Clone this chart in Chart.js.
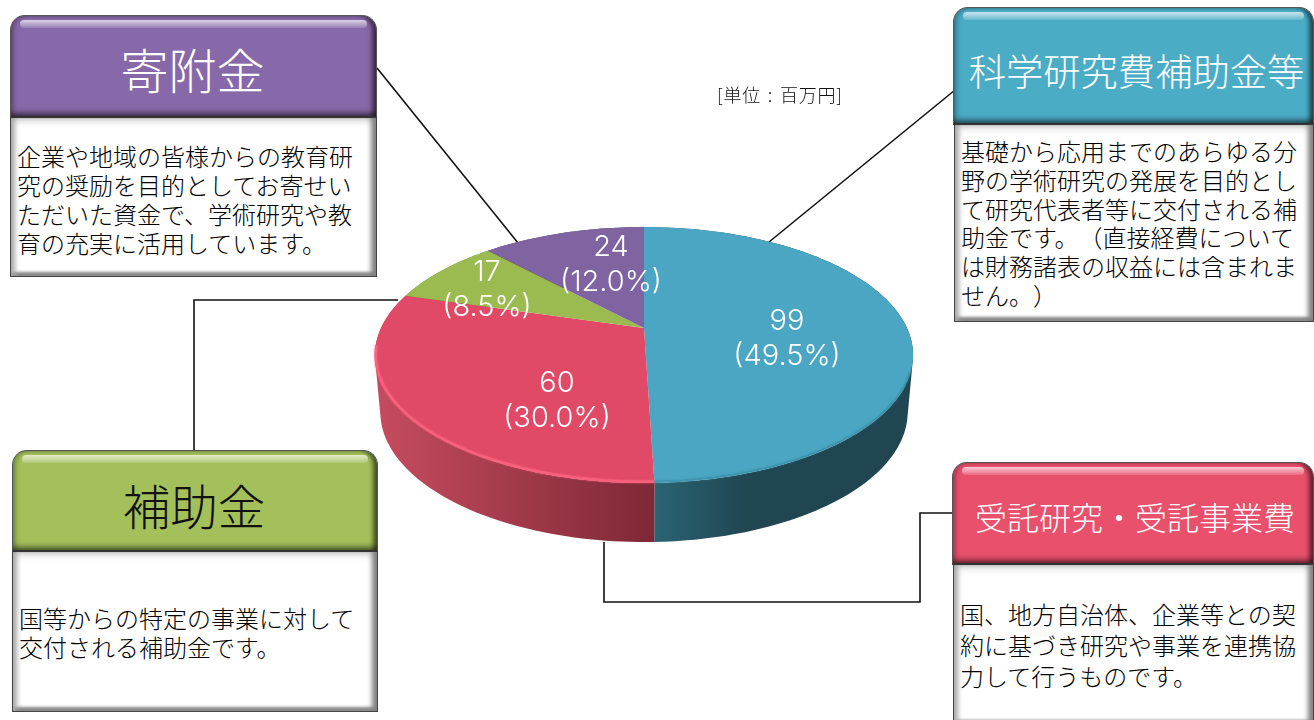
<!DOCTYPE html>
<html lang="ja"><head><meta charset="utf-8">
<script src="https://cdn.jsdelivr.net/npm/chart.js@4"></script>
<style>
html,body{margin:0;padding:0;background:#fff;overflow:hidden;width:1314px;height:720px;font-family:"Noto Sans CJK JP","Noto Sans",sans-serif;text-spacing-trim:space-all}
#chart{position:absolute;left:0;top:0;z-index:2}
svg{position:absolute;left:0;top:0;z-index:1}
.h,.b{position:absolute;box-sizing:border-box;z-index:3;white-space:nowrap}
.h{border-radius:15px 15px 0 0;border:1px solid #555;border-bottom:2px solid #333;color:#fff;font-weight:300;text-align:center;overflow:hidden;
 box-shadow:inset -5px 0 4px -1px rgba(0,0,0,.55),inset 4px 0 4px -1px rgba(0,0,0,.25),inset 0 -6px 5px -2px rgba(0,0,0,.4)}
.h:before{content:"";position:absolute;left:9px;right:9px;top:4px;height:8px;border-radius:4px;background:linear-gradient(rgba(255,255,255,.7),rgba(255,255,255,.15));filter:blur(.6px)}
.b{background:#fff;border:1px solid #444;border-top:0;color:#000;font-weight:300;font-size:24px;
 box-shadow:inset -7px 0 5px -2px #808080,inset 6px 0 5px -2px #aaa,inset 0 -7px 3px -3px #888,inset 0 7px 6px -3px #ddd}
#unit{position:absolute;left:717px;top:82px;font-size:18px;color:#111;z-index:3;font-weight:300;line-height:24px;white-space:nowrap;letter-spacing:.8px;word-spacing:2px}
</style></head><body>
<svg width="1314" height="720"><g fill="none" stroke="#111" stroke-width="1.6">
<polyline points="377,68 518,243"/><polyline points="955,90 769,242"/>
<polyline points="194,450 194,300 398,300"/><polyline points="604,542 604,602 920,602 920,513 952,513"/></g></svg>
<canvas id="chart" width="1314" height="720"></canvas>
<div id="boxes"></div>
<div id="unit"></div>
<script>
const categories=["科学研究費補助金等","受託研究・受託事業費","補助金","寄附金"];
const values=[99,60,17,24];
const percents=["(49.5%)","(30.0%)","(8.5%)","(12.0%)"];
const unitLabel="[単位 : 百万円]";
const descriptions=[
 ["基礎から応用までのあらゆる分","野の学術研究の発展を目的とし","て研究代表者等に交付される補","助金です。（直接経費について","は財務諸表の収益には含まれま","せん。）"],
 ["国、地方自治体、企業等との契","約に基づき研究や事業を連携協","力して行うものです。"],
 ["国等からの特定の事業に対して","交付される補助金です。"],
 ["企業や地域の皆様からの教育研","究の奨励を目的としてお寄せい","ただいた資金で、学術研究や教","育の充実に活用しています。"]
];
const sliceColors=["#4aa6c2","#e04a66","#9bbb50","#8064a2"];
const sideColors=[["#2b6373","#204652"],["#c64c60","#7e2836"],["#6f8a3a","#5a7030"],["#5d4878","#4c3a63"]];
const headColors=["#4bacc6","#e9506c","#a3c05a","#8768a8"];
const headTextColors=["#fff","#fff","#111","#fff"];
const labelCenters=[[787,338],[557,400],[487,289],[611,264]];
const layoutBoxes=[
 {x:953,y:7,w:361,hh:118,bh:197,fs:37.3,tp:40,lh:28.8,by:12,tx:3,pl:6},
 {x:952,y:462,w:362,hh:103,bh:160,fs:32,tp:34,lh:31,by:33,tx:2,pl:6},
 {x:12,y:450,w:366,hh:102,bh:160,fs:47.5,tp:25,lh:29,by:51,tx:-1,pl:6},
 {x:10,y:15,w:367,hh:103,bh:159,fs:48,tp:24,lh:29,by:23,tx:-1,pl:6}
];
const K=-0.211,YSCALE=0.465,CX=644,TOPC=355,LOWC=412;

layoutBoxes.forEach((l,i)=>{
 const root=document.getElementById('boxes');
 const h=document.createElement('div');h.className='h';
 h.style.cssText=`left:${l.x}px;top:${l.y}px;width:${l.w}px;height:${l.hh}px;background:${headColors[i]};color:${headTextColors[i]};font-size:${l.fs}px;line-height:${l.fs*1.2}px;padding-top:${l.tp}px;padding-left:${Math.max(l.tx,0)*2}px;padding-right:${Math.max(-l.tx,0)*2}px`;
 h.textContent=categories[i];root.appendChild(h);
 const b=document.createElement('div');b.className='b';
 b.style.cssText=`left:${l.x+(i<2?1:0)}px;top:${l.y+l.hh}px;width:${l.w-(i<2?1:0)}px;height:${l.bh}px;line-height:${l.lh}px;padding:${l.by}px 0 0 ${l.pl}px`;
 b.innerHTML=descriptions[i].join('<br>');root.appendChild(b);
});
document.getElementById('unit').textContent=unitLabel;

function proj(arc,a){
 const u=Math.cos(a),v=Math.sin(a),d=1+K*v,R=arc.outerRadius;
 return [arc.x+R*u/d,arc.y+R*YSCALE*v/d];
}
function lower(p){return [CX+(p[0]-CX)*0.98,LOWC+(p[1]-TOPC)*1.016];}
function samples(arc){
 const n=Math.max(8,Math.ceil((arc.endAngle-arc.startAngle)*40)),pts=[];
 for(let i=0;i<=n;i++)pts.push(proj(arc,arc.startAngle+(arc.endAngle-arc.startAngle)*i/n));
 return pts;
}
function addQuad(ctx,q){ // same winding for every quad, so overlaps never cancel under nonzero fill
 let area=0;
 q.forEach((p,i)=>{const n=q[(i+1)%4];area+=p[0]*n[1]-n[0]*p[1];});
 const o=area<0?q.slice().reverse():q;
 o.forEach((p,i)=>i?ctx.lineTo(p[0],p[1]):ctx.moveTo(p[0],p[1]));
 ctx.closePath();
}
const pie3d={id:'pie3d',beforeDatasetsDraw(chart){
 const ctx=chart.ctx,arcs=chart.getDatasetMeta(0).data;
 ctx.save();
 arcs.forEach((arc,i)=>{ // sides
  const pts=samples(arc),lo=pts.map(lower);
  const xs=pts.map(p=>p[0]),c=sideColors[i];
  let g;
  if(i===0){
   g=ctx.createLinearGradient(655,0,913,0);g.addColorStop(0,c[0]);g.addColorStop(.35,c[1]);g.addColorStop(1,c[1]);
  }else{
   g=ctx.createLinearGradient(Math.min(...xs),0,Math.max(...xs),0);g.addColorStop(0,c[0]);g.addColorStop(1,c[1]);
  }
  ctx.fillStyle=g;
  ctx.beginPath();
  for(let k=0;k<pts.length-1;k++)addQuad(ctx,[pts[k],pts[k+1],lo[k+1],lo[k]]);
  ctx.fill();
 });
 arcs.forEach((arc,i)=>{ // top faces
  const pts=samples(arc);
  ctx.fillStyle=sliceColors[i];ctx.beginPath();ctx.moveTo(arc.x,arc.y);
  pts.forEach(p=>ctx.lineTo(p[0],p[1]));ctx.closePath();ctx.fill();
 });
 const bevel=(arc,color,w,blur,minY)=>{
  const pts=samples(arc).filter(p=>p[1]>minY);
  ctx.strokeStyle=color;ctx.lineWidth=w;ctx.shadowColor=color;ctx.shadowBlur=blur;
  ctx.beginPath();pts.forEach((p,k)=>{const q=[CX+(p[0]-CX)*.997,TOPC+(p[1]-TOPC)*.99];k?ctx.lineTo(q[0],q[1]):ctx.moveTo(q[0],q[1]);});ctx.stroke();
  ctx.shadowBlur=0;
 };
 bevel(arcs[1],'#f8607c',2.5,2,345);
 bevel(arcs[0],'#3f94ae',1.5,2,370);
 ctx.fillStyle='#fff';ctx.textAlign='center';ctx.textBaseline='middle';
 ctx.font='300 29px Inter, Lato, sans-serif';
 values.forEach((v,i)=>{
  const c=labelCenters[i];
  ctx.fillText(String(v),c[0],c[1]-17);
  ctx.fillText(percents[i],c[0],c[1]+18);
 });
 ctx.restore();
 return false;
}};
new Chart(document.getElementById('chart'),{
 type:'pie',
 data:{labels:categories,datasets:[{data:values,backgroundColor:sliceColors,borderWidth:0}]},
 options:{responsive:false,animation:false,
  layout:{padding:{left:381,right:407,top:65,bottom:129}},
  plugins:{legend:{display:false},tooltip:{enabled:false}}},
 plugins:[pie3d]
});
</script></body></html>
